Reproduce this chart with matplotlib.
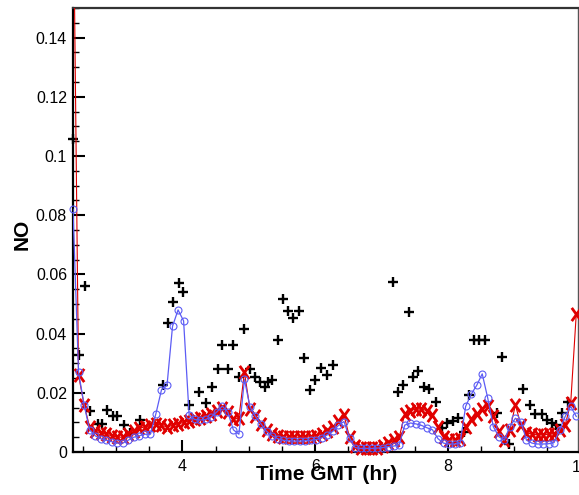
import matplotlib
matplotlib.use("Agg")
import matplotlib.pyplot as plt
import numpy as np
from matplotlib.path import Path
from matplotlib.ticker import FixedLocator, MultipleLocator, FuncFormatter

plt.rcParams['font.family'] = ['Liberation Sans', 'DejaVu Sans']

# Model output sampled every 5 minutes from 2.35 hr GMT
t_start = 2.35
t_step = 1.0 / 12.0

no_model_red = [
    0.2, 0.026, 0.016, 0.0085, 0.007, 0.0065, 0.006, 0.0055, 0.005, 0.005,
    0.006, 0.007, 0.008, 0.0085, 0.009, 0.0095, 0.009, 0.0085, 0.009, 0.0095,
    0.010, 0.0105, 0.011, 0.0115, 0.012, 0.013, 0.014, 0.015, 0.0135, 0.011,
    0.0115, 0.027, 0.0145, 0.012, 0.0095, 0.0075, 0.0062, 0.0055, 0.005, 0.005,
    0.005, 0.005, 0.005, 0.0052, 0.0055, 0.006, 0.007, 0.0085, 0.0105, 0.0125,
    0.005, 0.002, 0.0015, 0.0012, 0.0012, 0.0015, 0.002, 0.003, 0.004, 0.005,
    0.013, 0.014, 0.0145, 0.0145, 0.014, 0.0125, 0.0085, 0.005, 0.0042, 0.004,
    0.0045, 0.0086, 0.011, 0.013, 0.0145, 0.0155, 0.012, 0.007, 0.004, 0.0075,
    0.0159, 0.0091, 0.0065, 0.006, 0.0058, 0.0058, 0.006, 0.0062, 0.0075, 0.0091,
    0.0165, 0.0465,
]

no_model_blue = [
    0.082, 0.027, 0.016, 0.0075, 0.0055, 0.0045, 0.004, 0.0035, 0.003, 0.003,
    0.004, 0.005, 0.0055, 0.006, 0.006, 0.013, 0.021, 0.0225, 0.0425, 0.048,
    0.0443, 0.0125, 0.011, 0.0108, 0.011, 0.0118, 0.0135, 0.0155, 0.0135, 0.0075,
    0.006, 0.0245, 0.0153, 0.012, 0.0095, 0.007, 0.0055, 0.0045, 0.004, 0.0038,
    0.0037, 0.0037, 0.0038, 0.004, 0.0042, 0.0048, 0.0058, 0.007, 0.009, 0.0103,
    0.0048, 0.0015, 0.0012, 0.0012, 0.0012, 0.0013, 0.0015, 0.0018, 0.002, 0.0025,
    0.0091, 0.0098, 0.0095, 0.009, 0.0082, 0.0075, 0.0045, 0.003, 0.0027, 0.0027,
    0.003, 0.0154, 0.0195, 0.0225, 0.0264, 0.0182, 0.0086, 0.0052, 0.004, 0.0086,
    0.0114, 0.0103, 0.004, 0.003, 0.0027, 0.0027, 0.0028, 0.0032, 0.0075, 0.012,
    0.0154, 0.012,
]

# Observed NO
obs_time = [
    2.35, 2.44, 2.53, 2.606, 2.731, 2.782, 2.858, 2.948, 3.017, 3.118,
    3.208, 3.359, 3.71, 3.785, 3.851, 3.946, 4.011, 4.104, 4.248, 4.353,
    4.448, 4.529, 4.598, 4.68, 4.755, 4.855, 4.93, 5.016, 5.091, 5.166,
    5.242, 5.282, 5.351, 5.433, 5.517, 5.592, 5.668, 5.754, 5.833, 5.919,
    5.995, 6.085, 6.171, 6.261, 7.169, 7.245, 7.32, 7.41, 7.47, 7.55,
    7.636, 7.722, 7.821, 7.912, 7.987, 8.073, 8.153, 8.239, 8.324, 8.4,
    8.475, 8.555, 8.736, 8.818, 8.924, 9.135, 9.237, 9.317, 9.413, 9.489,
    9.564, 9.632, 9.722, 9.809,
]
obs_no = [
    0.1057, 0.0329, 0.056, 0.0137, 0.0094, 0.0095, 0.0142, 0.012, 0.012, 0.0091,
    0.0064, 0.0108, 0.0227, 0.0436, 0.0506, 0.0571, 0.0541, 0.0159, 0.0204, 0.0165,
    0.0219, 0.0281, 0.036, 0.0281, 0.036, 0.0255, 0.0417, 0.028, 0.0253, 0.0238,
    0.0221, 0.0235, 0.0242, 0.0377, 0.0518, 0.0475, 0.0453, 0.0475, 0.0317, 0.021,
    0.0242, 0.0284, 0.0261, 0.0295, 0.0575, 0.0204, 0.0227, 0.0472, 0.0255, 0.0272,
    0.0219, 0.0212, 0.017, 0.008, 0.0097, 0.0106, 0.0114, 0.0069, 0.0193, 0.0379,
    0.0379, 0.0379, 0.0132, 0.032, 0.0027, 0.0212, 0.016, 0.0128, 0.0128, 0.0108,
    0.0098, 0.0091, 0.0131, 0.017,
]

y_ticks = [0, 0.02, 0.04, 0.06, 0.08, 0.1, 0.12, 0.14]
x_ticks = [4, 6, 8]

model_time = t_start + t_step * np.arange(len(no_model_red))

# tall "X" symbol
tall_x = Path([(-0.72, -1), (0.72, 1), (-0.72, 1), (0.72, -1)],
              [Path.MOVETO, Path.LINETO, Path.MOVETO, Path.LINETO])

fig = plt.figure(figsize=(5.79, 4.95), dpi=100)
ax = fig.add_axes([73 / 579, 1 - 452 / 495, 505 / 579, 444 / 495])

blue = '#5c5cf5'
red = '#e00000'

# observations
ax.plot(obs_time, obs_no, linestyle='none', marker='+', color='black',
        markersize=7, markeredgewidth=1.7, clip_on=False, zorder=3)

# red model run: connecting line clipped, markers free
ax.plot(model_time, no_model_red, color=red, linewidth=0.8, zorder=4)
ax.plot(model_time, no_model_red, linestyle='none', marker=tall_x, color=red,
        markersize=9.5, markeredgewidth=2.0, clip_on=False, zorder=4)

# blue model run
ax.plot(model_time, no_model_blue, color=blue, linewidth=0.9, zorder=5)
ax.plot(model_time, no_model_blue, linestyle='none', marker='o',
        markerfacecolor='none', markeredgecolor=blue, markersize=5,
        markeredgewidth=0.8, clip_on=False, zorder=5)

ax.set_xlim(2.35, 9.96)
ax.set_ylim(0, 0.15)

ax.yaxis.set_major_locator(FixedLocator(y_ticks))
ax.yaxis.set_minor_locator(MultipleLocator(0.005))
ax.yaxis.set_major_formatter(FuncFormatter(lambda v, p: f'{v:g}'))
ax.xaxis.set_major_locator(FixedLocator(x_ticks))
ax.xaxis.set_minor_locator(MultipleLocator(0.5))
ax.xaxis.set_major_formatter(FuncFormatter(lambda v, p: f'{v:g}'))

ax.tick_params(which='major', direction='in', length=8.5, width=1.5,
               labelsize=11.5, top=False, right=False)
ax.tick_params(which='minor', direction='in', length=4.5, width=1.0,
               top=False, right=False)
ax.tick_params(axis='y', which='major', pad=4.3)
ax.tick_params(axis='x', which='major', pad=5)

# tick label at 10 hr sits on the right border
ax.text(10, -0.034, '10', transform=ax.get_xaxis_transform(), ha='center',
        va='center', fontsize=11.5, clip_on=False)

for side in ('left', 'bottom', 'top'):
    ax.spines[side].set_linewidth(1.6)
    ax.spines[side].set_color('black')
ax.spines['top'].set_color('#333333')
ax.spines['right'].set_linewidth(1.0)
ax.spines['right'].set_color('#555555')

ax.set_xlabel('Time GMT (hr)', fontsize=15, fontweight='bold')
ax.xaxis.set_label_coords(0.502, -0.029)
ax.set_ylabel('NO', fontsize=15, fontweight='bold')
ax.yaxis.set_label_coords(-0.081, 0.491)

fig.savefig('out.png', dpi=100)
